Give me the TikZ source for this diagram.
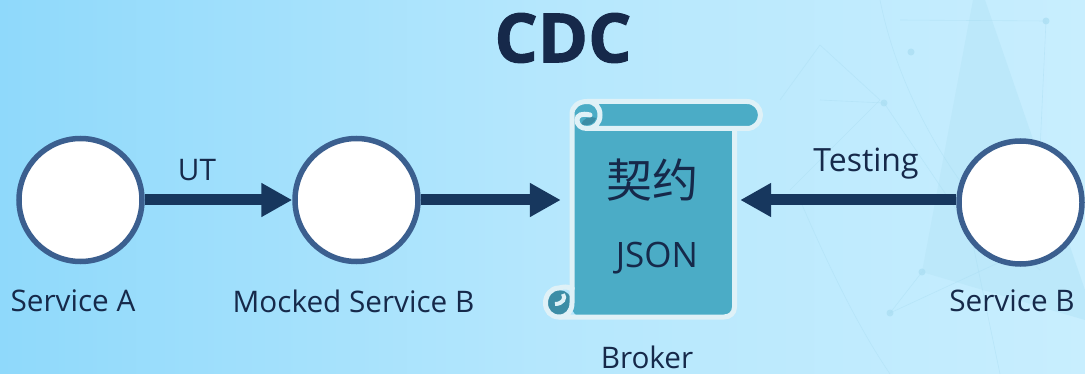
\documentclass[tikz,border=0pt]{standalone}
\usepackage{fontspec}
\setmainfont{Open Sans}
\newfontfamily\cjkfont{Noto Sans CJK SC}
\usepackage{tikz}
\usetikzlibrary{arrows.meta, positioning}
\definecolor{bgleft}{HTML}{8FD9FB}
\definecolor{bgmid}{HTML}{B5E7FD}
\definecolor{bgright}{HTML}{C8EEFE}
\definecolor{inkblue}{HTML}{17375E}
\definecolor{textblue}{HTML}{16294A}
\definecolor{ringblue}{HTML}{3B5F8F}
\definecolor{scrollfill}{HTML}{4BACC6}
\definecolor{scrolldark}{HTML}{3C8DA6}
\definecolor{scrollline}{HTML}{DFF1F7}
\definecolor{webline}{HTML}{A9DDF2}
\definecolor{webshade}{HTML}{BCE8FA}
\tikzset{
	service/.style={
		circle,
		minimum size=123pt,
		inner sep=0pt,
		draw=ringblue,
		line width=5.5pt,
		fill=white
	},
	label/.style={
		font=\fontsize{29.7}{32}\selectfont,
		text=textblue,
		inner sep=0pt
	},
	arrow/.style={
		line width=11pt,
		draw=inkblue,
		-{Triangle[length=31pt,width=32pt]}
	},
	slot/.style={
		minimum width=179pt,
		minimum height=216pt,
		inner sep=0pt
	},
	roll/.style={line width=5pt, draw=scrollline, line cap=round},
	web/.style={draw=webline, line width=0.6pt, opacity=0.45},
	knot/.style={fill=webline, opacity=0.7}
}

\begin{document}
\begin{tikzpicture}[x=1pt, y=-1pt]
	\useasboundingbox (0,0) rectangle (1085,374);
	\shade[left color=bgleft, right color=bgright, middle color=bgmid] (0,0) rectangle (1085,374);

	% Background web
	\fill[webshade] (973,0) -- (985,0) -- (1085,290) -- (1085,320) -- (922,272) -- cycle;
	\draw[web] (780,100) -- (820,45) -- (880,100) -- (790,190);
	\draw[web] (820,100) -- (884,103) -- (970,230) -- (1000,374);
	\draw[web] (880,0) .. controls (900,100) and (960,200) .. (1040,270);
	\draw[web] (900,20) -- (1046,21) -- (1040,150);
	\draw[web] (922,272) -- (890,313) -- (1000,262);
	\draw[web] (800,200) .. controls (830,270) and (860,330) .. (890,374);
	\fill[knot] (911,52) circle (3.5);
	\fill[knot] (884,103) circle (3.5);
	\fill[knot] (1046,21) circle (3.5);
	\fill[knot] (922,272) circle (3.5);
	\fill[knot] (890,313) circle (3.5);

	% Title
	\node (title) [label, font=\fontsize{68}{72}\selectfont\bfseries\addfontfeature{FakeBold=1.5}] at (563,38) {CDC};

	% Services
	\node (servicea) [service] at (80.5,200) {};
	\node (mocked) [service] at (356.5,200) {};
	\node (serviceb) [service] at (1020.5,202.5) {};
	\node (slot) [slot] at (650.5,200) {};

	% Scroll
	\fill[scrollfill, rounded corners=10pt] (572,115) -- (572,317) -- (734.5,317) -- (734.5,115) -- cycle;
	\fill[scrollfill, rounded corners=13pt] (572,101.5) -- (760.5,101.5) -- (760.5,128.5) -- (572,128.5) -- cycle;
	\draw[roll] (572,289) -- (572,114) .. controls (572,106) and (579,101.5) .. (587,101.5) -- (747,101.5) .. controls (755,101.5) and (760.5,108) .. (760.5,115) .. controls (760.5,122) and (755,128.5) .. (747,128.5) -- (588,128.5);
	\draw[roll] (734.5,128.5) -- (734.5,307) .. controls (734.5,313) and (730,317) .. (724,317) -- (559,317);
	\fill[scrolldark] (581,125) .. controls (582,119) and (590,115) .. (596,118) .. controls (595,123) and (590,126) .. (581,125) -- cycle;
	\draw[roll] (587,101.5) .. controls (595,101.5) and (600,107) .. (600,115) .. controls (600,123) and (595,128.5) .. (587,128.5) .. controls (581,128.5) and (577,125) .. (577,120) .. controls (577,115) and (582,113) .. (590,115);
	\fill[scrolldark] (559,303) circle (13);
	\draw[roll] (559,288) .. controls (551,288) and (545.5,295) .. (545.5,303) .. controls (545.5,311) and (551,317) .. (559,317) .. controls (567,317) and (572,311) .. (572,303) -- (572,289) .. controls (568,286) and (563,287) .. (559,288);
	\draw[line width=4pt, draw=scrollline] (563,294) .. controls (566,298) and (563,304) .. (555,304);

	\node (contract) [label, font=\fontsize{46}{50}\cjkfont, text=textblue] at (652,180) {契约};
	\node (json) [label, font=\fontsize{35}{38}\selectfont] at (657,258) {JSON};

	% Labels
	\node (labela) [label] at (73,301) {Service A};
	\node (labelm) [label] at (353.5,301) {Mocked Service B};
	\node (labelb) [label] at (1012,301) {Service B};
	\node (broker) [label] at (647,357.5) {Broker};
	\node (ut) [label] at (197,170) {UT};
	\node (testing) [label, font=\fontsize{32}{35}\selectfont] at (866,164) {Testing};

	\draw [arrow] (servicea) -- (mocked);
	\draw [arrow] (mocked) -- (slot);
	\draw [arrow] (serviceb.west |- slot) -- (slot);
\end{tikzpicture}
\end{document}
